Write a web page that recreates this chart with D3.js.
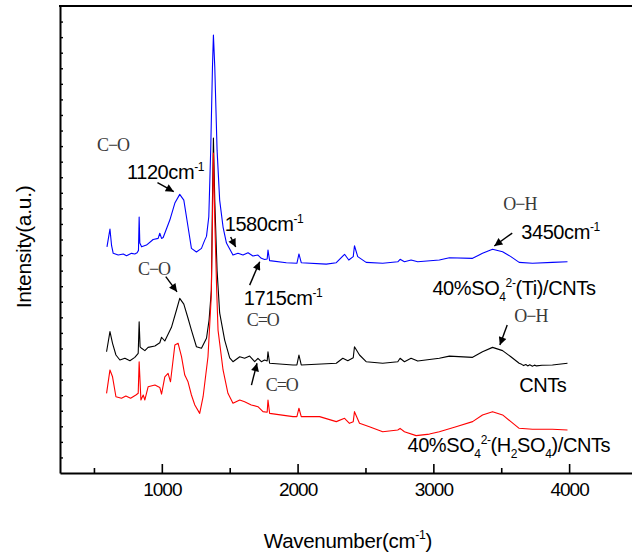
<!DOCTYPE html>
<html lang="en">
<head>
<meta charset="utf-8">
<title>FTIR spectra</title>
<script src="https://d3js.org/d3.v7.min.js"></script>
<style>
  body { margin: 0; background: #fff; }
  svg { display: block; }
  .sans { font-family: Arial, "Liberation Sans", sans-serif; fill: #000; }
  .serif { font-family: "Liberation Serif", "Times New Roman", serif; fill: #3a3a3a; }
  .spec { fill: none; stroke-width: 1.1; stroke-linejoin: round; }
</style>
</head>
<body>
<svg id="chart"></svg>
<script>
// spectra, [wavenumber cm-1, intensity a.u.]
var blueTi = [
  [596,14.53],[618,15.67],[630,14.6],[642,14.11],[679,14.0],[716,14.07],[740,13.96],[777,14.11],
  [801,14.07],[818,14.15],[828,14.3],[833,16.44],[838,14.77],[851,14.53],[887,14.64],[936,15.0],
  [973,15.07],[985,15.4],[998,15.07],[1010,15.13],[1059,16.25],[1096,17.34],[1132,17.9],[1162,17.53],
  [1193,15.82],[1218,14.43],[1255,14.2],[1292,14.43],[1316,14.96],[1329,15.2],[1346,16.46],[1360,20.74],
  [1373,26.08],[1380,28.13],[1390,26.08],[1407,20.74],[1426,17.53],[1451,15.8],[1476,14.77],[1524,14.0],
  [1561,14.11],[1598,14.0],[1635,14.15],[1671,13.94],[1708,14.0],[1733,13.79],[1757,13.72],[1776,13.75],
  [1782,14.32],[1794,13.64],[1917,13.51],[1995,13.47],[2010,14.07],[2027,13.51],[2211,13.42],[2285,13.51],
  [2346,14.05],[2377,13.68],[2410,13.9],[2419,14.6],[2443,13.9],[2505,13.53],[2627,13.47],[2738,13.57],
  [2755,13.73],[2787,13.57],[2836,13.68],[2885,13.57],[3044,13.68],[3118,13.83],[3289,13.79],[3362,14.11],
  [3436,14.37],[3510,14.21],[3571,13.9],[3632,13.53],[3730,13.47],[3877,13.53],[3988,13.57]
];

var blackCNT = [
  [593,7.79],[618,9.08],[637,8.33],[662,7.58],[691,7.26],[728,7.37],[765,7.21],[801,7.43],
  [826,7.69],[833,9.72],[840,8.1],[851,8.01],[875,7.86],[899,8.07],[949,8.16],[985,8.37],
  [998,8.72],[1022,8.48],[1071,9.36],[1108,10.47],[1132,11.22],[1162,10.85],[1193,9.94],[1218,9.18],
  [1255,8.11],[1292,8.01],[1329,8.65],[1348,9.83],[1365,11.75],[1373,17.5],[1380,21.52],[1390,17.5],
  [1407,13.0],[1426,10.28],[1463,8.54],[1500,7.39],[1524,7.15],[1574,7.47],[1610,7.37],[1647,7.51],
  [1684,7.15],[1708,7.37],[1733,7.15],[1757,7.26],[1776,7.2],[1782,7.79],[1794,7.05],[1966,6.94],
  [1995,6.94],[2010,7.58],[2027,6.94],[2285,7.05],[2333,7.37],[2370,7.21],[2410,7.4],[2419,8.11],
  [2456,7.58],[2505,7.15],[2627,7.05],[2738,7.15],[2755,7.37],[2787,7.15],[2836,7.37],[2885,7.19],
  [3044,7.37],[3118,7.51],[3289,7.43],[3362,7.79],[3436,8.07],[3510,7.86],[3571,7.47],[3632,7.05],
  [3650,6.98],[3665,6.9],[3681,6.97],[3695,6.88],[3710,6.95],[3730,6.86],[3745,6.93],[3760,6.88],
  [3800,6.92],[3877,6.94],[3988,7.05]
];

var redH2SO4 = [
  [593,5.12],[618,6.62],[637,6.18],[662,4.9],[703,4.8],[735,4.95],[770,4.8],[809,5.01],
  [826,5.12],[833,7.15],[846,4.69],[863,5.01],[875,4.69],[899,5.54],[949,5.65],[985,5.5],
  [998,5.07],[1022,6.18],[1046,6.4],[1064,5.86],[1096,8.22],[1120,8.33],[1145,7.47],[1169,6.29],
  [1193,5.86],[1218,5.01],[1243,4.37],[1279,3.83],[1304,4.9],[1340,7.47],[1364,11.32],[1373,16.25],
  [1380,20.55],[1390,16.25],[1404,11.75],[1414,9.18],[1451,6.62],[1487,5.12],[1524,4.48],[1574,4.69],
  [1610,4.58],[1659,4.37],[1708,4.26],[1745,3.94],[1776,3.9],[1782,4.69],[1794,3.83],[1966,3.62],
  [1995,3.62],[2010,4.16],[2027,3.62],[2162,3.62],[2285,3.3],[2346,3.51],[2382,3.19],[2410,3.3],
  [2419,3.94],[2456,3.19],[2529,2.97],[2627,2.65],[2738,2.76],[2755,2.87],[2787,2.65],[2873,2.4],
  [2971,2.5],[3044,2.65],[3167,2.97],[3289,3.3],[3362,3.73],[3436,3.94],[3510,3.73],[3571,3.3],
  [3632,2.87],[3730,2.81],[3877,2.81],[3988,2.76]
];

var seriesColors = ["#0000ff", "#000000", "#ff0000"];

var majorTicks = [1000, 2000, 3000, 4000];
var minorTicks = [500, 1500, 2500, 3500];

// annotation texts: position in data units, parts = [text, "", "sup" or "sub"]
var sansLabels = [
  { w: 743,  i: 18.88, parts: [["1120cm", ""], ["-1", "sup"]] },
  { w: 1463, i: 15.54, parts: [["1580cm", ""], ["-1", "sup"]] },
  { w: 3647, i: 15.03, parts: [["3450cm", ""], ["-1", "sup"]] },
  { w: 1603, i: 10.79, parts: [["1715cm", ""], ["-1", "sup"]] },
  { w: 2993, i: 11.43, parts: [["40%SO", ""], ["4", "sub"], ["2-", "sup"], ["(Ti)/CNTs", ""]] },
  { w: 3632, i: 5.20,  parts: [["CNTs", ""]] },
  { w: 2809, i: 1.35,  parts: [["40%SO", ""], ["4", "sub"], ["2-", "sup"], ["(H", ""], ["2", "sub"], ["SO", ""], ["4", "sub"], [")/CNTs", ""]] }
];

var serifLabels = [
  { w: 522,  i: 20.68, text: "C\u2212O" },
  { w: 3515, i: 16.89, text: "O\u2212H" },
  { w: 824,  i: 12.72, text: "C\u2212O" },
  { w: 1625, i: 9.44,  text: "C=O" },
  { w: 3596, i: 9.70,  text: "O\u2212H" },
  { w: 1765, i: 5.27,  text: "C=O" }
];

// arrows: from (w0,i0) to tip (w1,i1)
var arrows = [
  [968, 18.65, 1088, 18.07],
  [1507, 15.16, 1544, 14.52],
  [3581, 15.41, 3449, 14.58],
  [1029, 12.61, 1112, 11.64],
  [1647, 12.07, 1721, 13.57],
  [3544, 9.51, 3490, 8.22],
  [1660, 5.65, 1701, 7.05]
];

var W = 632, H = 557;
var svg = d3.select("#chart").attr("width", W).attr("height", H);

var x = d3.scaleLinear().domain([250, 4500]).range([60, 637]);
var y = d3.scaleLinear().domain([0, 30]).range([473, 6]);

var defs = svg.append("defs");
defs.append("marker")
  .attr("id", "head")
  .attr("markerUnits", "userSpaceOnUse")
  .attr("viewBox", "0 0 10 10")
  .attr("refX", 10).attr("refY", 5)
  .attr("markerWidth", 10).attr("markerHeight", 8)
  .attr("orient", "auto")
  .append("path")
  .attr("d", "M0,0L10,5L0,10z")
  .attr("fill", "#000");

// spectra
var line = d3.line()
  .x(function(d) { return x(d[0]); })
  .y(function(d) { return y(d[1]); });

[blueTi, blackCNT, redH2SO4].forEach(function(s, k) {
  svg.append("path")
    .datum(s)
    .attr("class", "spec")
    .attr("stroke", seriesColors[k])
    .attr("d", line);
});

// axes
var xAxis = svg.append("g")
  .attr("transform", "translate(0," + y(0) + ")")
  .call(d3.axisBottom(x).tickValues(majorTicks).tickFormat(d3.format("d"))
    .tickSizeInner(-9).tickSizeOuter(0).tickPadding(10));
xAxis.select(".domain").attr("stroke-width", 2);
xAxis.selectAll(".tick line").attr("stroke-width", 1.6);
xAxis.selectAll("text")
  .attr("class", "sans")
  .style("font-size", "19px")
  .style("letter-spacing", "-1px");

var xMinor = svg.append("g")
  .attr("transform", "translate(0," + y(0) + ")")
  .call(d3.axisBottom(x).tickValues(minorTicks).tickSizeInner(-5).tickSizeOuter(0).tickFormat(""));
xMinor.select(".domain").remove();
xMinor.selectAll(".tick line").attr("stroke-width", 1.6);

var yAxis = svg.append("g")
  .attr("transform", "translate(" + x(250) + ",0)")
  .call(d3.axisLeft(y).tickValues(d3.range(1, 30)).tickSizeInner(-3).tickSizeOuter(0).tickFormat(""));
yAxis.select(".domain").attr("stroke-width", 2);
yAxis.selectAll(".tick line").attr("stroke-width", 1.4);

svg.append("line")
  .attr("x1", x(250) - 1).attr("x2", x(4500))
  .attr("y1", y(30)).attr("y2", y(30))
  .attr("stroke", "#000").attr("stroke-width", 2.2);

// axis titles
var xt = svg.append("text")
  .attr("class", "sans")
  .attr("x", 348).attr("y", 548)
  .attr("text-anchor", "middle")
  .style("font-size", "20.5px")
  .style("letter-spacing", "-0.3px");
richText(xt, [["Wavenumber(cm", ""], ["-1", "sup"], [")", ""]], 20.5);

svg.append("text")
  .attr("class", "sans")
  .attr("transform", "translate(31,247) rotate(-90)")
  .attr("text-anchor", "middle")
  .style("font-size", "21px")
  .style("letter-spacing", "-0.3px")
  .text("Intensity(a.u.)");

// annotations
function richText(sel, parts, size) {
  var off = 0;
  parts.forEach(function(p) {
    var target = p[1] === "sup" ? -size * 0.42 : (p[1] === "sub" ? size * 0.3 : 0);
    sel.append("tspan")
      .attr("dy", target - off)
      .style("font-size", (p[1] ? size * 0.6 : size) + "px")
      .text(p[0]);
    off = target;
  });
}

sansLabels.forEach(function(d) {
  var t = svg.append("text")
    .attr("class", "sans")
    .attr("x", x(d.w)).attr("y", y(d.i))
    .style("letter-spacing", "-0.4px");
  richText(t, d.parts, 20);
});

serifLabels.forEach(function(d) {
  svg.append("text")
    .attr("class", "serif")
    .attr("x", x(d.w)).attr("y", y(d.i))
    .style("font-size", "18px")
    .style("letter-spacing", "-1px")
    .text(d.text);
});

svg.selectAll(".arrow")
  .data(arrows)
  .enter()
  .append("line")
  .attr("class", "arrow")
  .attr("x1", function(d) { return x(d[0]); })
  .attr("y1", function(d) { return y(d[1]); })
  .attr("x2", function(d) { return x(d[2]); })
  .attr("y2", function(d) { return y(d[3]); })
  .attr("stroke", "#000")
  .attr("stroke-width", 1.4)
  .attr("marker-end", "url(#head)");
</script>
</body>
</html>
